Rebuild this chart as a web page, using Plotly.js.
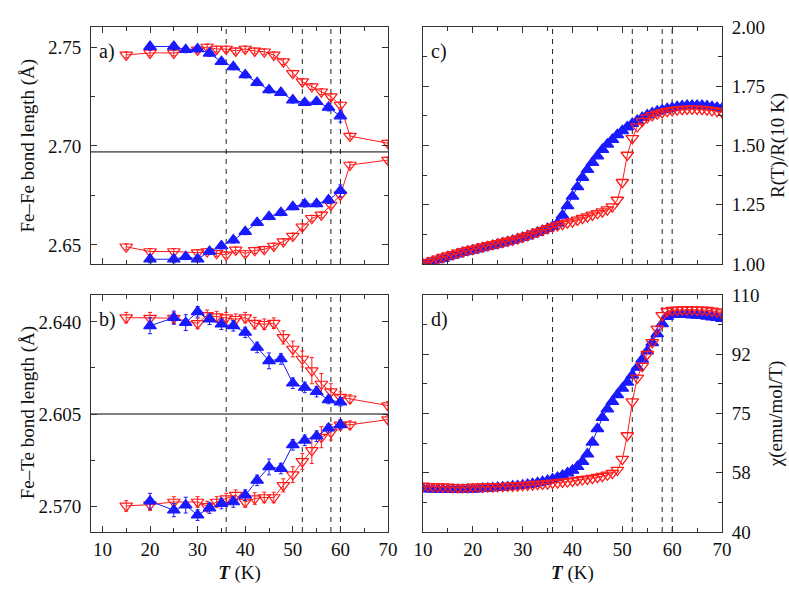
<!DOCTYPE html>
<html>
<head>
<meta charset="utf-8">
<script src="https://cdn.plot.ly/plotly-3.0.1.min.js"></script>
<style>
  html, body { margin: 0; padding: 0; background: #fff; }
  #chart { width: 789px; height: 592px; }
</style>
</head>
<body>
<div id="chart"></div>
<script>
// --- data: panels a) and b) (bond lengths) ---
const tRedAB = [15, 20, 25, 30, 32, 34, 36, 38, 40, 42, 44, 46, 48, 50, 52, 54, 56, 58, 60, 62, 70];
const tBlueAB = [20, 25, 27.5, 30, 32.5, 35, 37.5, 40, 42.5, 45, 47.5, 50, 52.5, 55, 57.5, 60];

const feFeRedLong = [2.7460, 2.7470, 2.7470, 2.7485, 2.7500, 2.7490, 2.7490, 2.7480, 2.7490, 2.7480, 2.7476, 2.7460, 2.7426, 2.7367, 2.7325, 2.7300, 2.7274, 2.7249, 2.7207, 2.7050, 2.7014];
const feFeRedShort = [2.6491, 2.6467, 2.6467, 2.6461, 2.6467, 2.6458, 2.6450, 2.6475, 2.6457, 2.6473, 2.6478, 2.6495, 2.6517, 2.6545, 2.6592, 2.6635, 2.6652, 2.6702, 2.6753, 2.6904, 2.6929];
const feFeRedErr = [0.0015, 0.0015, 0.0015, 0.0015, 0.0015, 0.0015, 0.0015, 0.0015, 0.0015, 0.0015, 0.0015, 0.0015, 0.0015, 0.0015, 0.0015, 0.0015, 0.0015, 0.0015, 0.0015, 0.0015, 0.0015];
const feFeBlueLong = [2.7502, 2.7503, 2.7486, 2.7490, 2.7468, 2.7426, 2.7400, 2.7359, 2.7320, 2.7283, 2.7270, 2.7232, 2.7219, 2.7224, 2.7195, 2.7151];
const feFeBlueShort = [2.6428, 2.6428, 2.6441, 2.6429, 2.6467, 2.6495, 2.6525, 2.6567, 2.6613, 2.6643, 2.6663, 2.6693, 2.6707, 2.6708, 2.6727, 2.6774];
const feFeBlueErr = [0.0018, 0.0018, 0.0015, 0.0015, 0.0015, 0.0015, 0.0015, 0.0015, 0.0015, 0.0015, 0.0015, 0.0015, 0.0015, 0.0015, 0.0018, 0.0030];
const feFeMean = 2.697;

const feTeRedLong = [2.6416, 2.6414, 2.6414, 2.6394, 2.6425, 2.6420, 2.6416, 2.6410, 2.6416, 2.6395, 2.6391, 2.6395, 2.6341, 2.6297, 2.6259, 2.6215, 2.6164, 2.6135, 2.6114, 2.6108, 2.6082];
const feTeRedShort = [2.5701, 2.5706, 2.5716, 2.5716, 2.5699, 2.5716, 2.5729, 2.5742, 2.5716, 2.5729, 2.5733, 2.5733, 2.5779, 2.5820, 2.5870, 2.5912, 2.5962, 2.5981, 2.6009, 2.6009, 2.6029];
const feTeRedErr = [0.0020, 0.0022, 0.0020, 0.0020, 0.0020, 0.0020, 0.0020, 0.0020, 0.0020, 0.0022, 0.0020, 0.0020, 0.0025, 0.0030, 0.0030, 0.0050, 0.0040, 0.0030, 0.0020, 0.0015, 0.0015];
const feTeBlueLong = [2.6385, 2.6416, 2.6397, 2.6438, 2.6410, 2.6391, 2.6385, 2.6360, 2.6303, 2.6252, 2.6259, 2.6167, 2.6151, 2.6135, 2.6104, 2.6095];
const feTeBlueShort = [2.5719, 2.5685, 2.5704, 2.5666, 2.5693, 2.5710, 2.5716, 2.5742, 2.5798, 2.5849, 2.5843, 2.5933, 2.5950, 2.5966, 2.5996, 2.6009];
const feTeBlueErr = [0.0030, 0.0025, 0.0030, 0.0020, 0.0020, 0.0020, 0.0020, 0.0020, 0.0020, 0.0030, 0.0020, 0.0020, 0.0020, 0.0020, 0.0015, 0.0015];
const feTeMean = 2.605;

// --- data: panels c) and d) (transport / susceptibility) ---
const tCD = [10, 11, 12, 13, 14, 15, 16, 17, 18, 19, 20, 21, 22, 23, 24, 25, 26, 27, 28, 29, 30,
             31, 32, 33, 34, 35, 36, 37, 38, 39, 40, 41, 42, 43, 44, 45, 46, 47, 48, 49, 50,
             51, 52, 53, 54, 55, 56, 57, 58, 59, 60, 61, 62, 63, 64, 65, 66, 67, 68, 69, 70];
const resRed = [1.000, 1.008, 1.015, 1.022, 1.029, 1.035, 1.041, 1.047, 1.053, 1.058, 1.063,
                1.068, 1.073, 1.078, 1.083, 1.087, 1.092, 1.097, 1.102, 1.107, 1.114,
                1.121, 1.128, 1.135, 1.143, 1.150, 1.157, 1.163, 1.168, 1.174, 1.179,
                1.186, 1.193, 1.200, 1.207, 1.214, 1.221, 1.229, 1.242, 1.270, 1.345,
                1.460, 1.530, 1.580, 1.603, 1.618, 1.627, 1.634, 1.640, 1.645, 1.648,
                1.651, 1.653, 1.654, 1.654, 1.654, 1.653, 1.651, 1.648, 1.645, 1.641];
const resBlue = [0.998, 1.004, 1.010, 1.017, 1.023, 1.030, 1.036, 1.042, 1.048, 1.053, 1.058,
                 1.063, 1.068, 1.073, 1.078, 1.083, 1.088, 1.093, 1.099, 1.105, 1.111,
                 1.118, 1.125, 1.133, 1.141, 1.149, 1.158, 1.172, 1.205, 1.245, 1.285,
                 1.325, 1.365, 1.398, 1.428, 1.455, 1.483, 1.505, 1.525, 1.545, 1.562,
                 1.578, 1.592, 1.605, 1.618, 1.628, 1.637, 1.644, 1.650, 1.655, 1.659,
                 1.663, 1.666, 1.668, 1.669, 1.669, 1.668, 1.666, 1.663, 1.660, 1.656];
const chiRed = [53.6, 53.5, 53.4, 53.4, 53.3, 53.3, 53.2, 53.2, 53.2, 53.2, 53.3,
                53.3, 53.3, 53.4, 53.4, 53.5, 53.5, 53.6, 53.6, 53.7, 53.8,
                53.9, 54.0, 54.1, 54.2, 54.3, 54.5, 54.6, 54.8, 54.9, 55.1,
                55.3, 55.5, 55.7, 55.9, 56.2, 56.5, 56.9, 57.4, 58.3, 61.5,
                68.5, 78.5, 85.5, 89.0, 92.5, 96.0, 100.0, 104.0, 105.2, 105.5,
                105.6, 105.7, 105.7, 105.7, 105.6, 105.6, 105.5, 105.3, 105.1, 104.8];
const chiBlue = [52.8, 52.7, 52.6, 52.6, 52.5, 52.5, 52.5, 52.5, 52.5, 52.6, 52.6,
                 52.7, 52.8, 52.9, 53.0, 53.1, 53.2, 53.3, 53.5, 53.6, 53.8,
                 54.0, 54.2, 54.5, 54.8, 55.2, 55.6, 56.1, 56.7, 57.4, 58.2,
                 59.3, 60.8, 63.0, 66.5, 70.5, 73.8, 76.3, 78.5, 80.5, 82.4,
                 84.2, 86.3, 88.6, 91.0, 93.4, 95.9, 98.5, 101.5, 103.6, 104.2,
                 104.3, 104.3, 104.2, 104.1, 104.0, 103.9, 103.7, 103.5, 103.3, 103.0];

// --- ticks ---
const tcLines = [36, 52, 58, 60];
const feFeTicks = [2.65, 2.70, 2.75];
const feFeTickText = ['2.65', '2.70', '2.75'];
const feTeTicks = [2.570, 2.605, 2.640];
const feTeTickText = ['2.570', '2.605', '2.640'];
const resTicks = [1.00, 1.25, 1.50, 1.75, 2.00];
const resTickText = ['1.00', '1.25', '1.50', '1.75', '2.00'];
const chiTicks = [40, 57.5, 75, 92.5, 110];
const chiTickText = ['40', '58', '75', '92', '110'];

const RED = '#ff1a1a';
const BLUE = '#1a1aff';
const FRAME = '#333';

// --- trace helpers ---
function bondTrace(x, y, err, color, filled, xa, ya) {
    return {
        x: x, y: y, xaxis: xa, yaxis: ya,
        mode: 'lines+markers',
        line: { color: color, width: 1 },
        marker: {
            symbol: filled ? 'triangle-up' : 'triangle-down-open',
            size: 11,
            color: color,
            line: { color: color, width: 1.2 }
        },
        error_y: { type: 'data', array: err, visible: true, color: color, thickness: 1, width: 2 },
        hoverinfo: 'none'
    };
}

function denseTrace(x, y, color, filled, xa, ya) {
    return {
        x: x, y: y, xaxis: xa, yaxis: ya,
        mode: 'lines+markers',
        line: { color: color, width: 1 },
        marker: {
            symbol: filled ? 'triangle-up' : 'triangle-down-open',
            size: 11,
            color: color,
            line: { color: color, width: 1.3 }
        },
        hoverinfo: 'none'
    };
}

const traces = [
    bondTrace(tRedAB, feFeRedLong, feFeRedErr, RED, false, 'x', 'y'),
    bondTrace(tRedAB, feFeRedShort, feFeRedErr, RED, false, 'x', 'y'),
    bondTrace(tBlueAB, feFeBlueLong, feFeBlueErr, BLUE, true, 'x', 'y'),
    bondTrace(tBlueAB, feFeBlueShort, feFeBlueErr, BLUE, true, 'x', 'y'),
    bondTrace(tRedAB, feTeRedLong, feTeRedErr, RED, false, 'x3', 'y3'),
    bondTrace(tRedAB, feTeRedShort, feTeRedErr, RED, false, 'x3', 'y3'),
    bondTrace(tBlueAB, feTeBlueLong, feTeBlueErr, BLUE, true, 'x3', 'y3'),
    bondTrace(tBlueAB, feTeBlueShort, feTeBlueErr, BLUE, true, 'x3', 'y3'),
    denseTrace(tCD, resBlue, BLUE, true, 'x2', 'y2'),
    denseTrace(tCD, resRed, RED, false, 'x2', 'y2'),
    denseTrace(tCD, chiBlue, BLUE, true, 'x4', 'y4'),
    denseTrace(tCD, chiRed, RED, false, 'x4', 'y4')
];

// --- axes ---
const SERIF = 'Liberation Serif, Times New Roman, serif';

function baseAxis(extra) {
    return Object.assign({
        showline: true, linecolor: FRAME, linewidth: 1, mirror: 'ticks',
        ticks: 'inside', ticklen: 6, tickcolor: FRAME, tickwidth: 1,
        showgrid: false, zeroline: false, fixedrange: true,
        tickfont: { family: SERIF, size: 19, color: '#111' }
    }, extra);
}

function tAxis(domain, range, anchor, labels) {
    return baseAxis({
        domain: domain, range: range, anchor: anchor,
        tick0: 0, dtick: 10, showticklabels: labels,
        minor: { ticks: 'inside', ticklen: 4, dtick: 5, tickcolor: FRAME },
        title: labels ? { text: '<b><i>T</i></b> (K)', standoff: 6, font: { family: SERIF, size: 19 } } : { text: '' }
    });
}

function yTitle(text, standoff) {
    return { text: text, standoff: standoff, font: { family: SERIF, size: 19, color: '#111' } };
}

const leftX = [0, 0.4707];
const rightX = [0.5261, 1];
const topY = [0.5307, 1];
const botY = [0, 0.4693];

const layout = {
    width: 789, height: 592,
    margin: { l: 91, r: 67, t: 27, b: 60 },
    showlegend: false,
    paper_bgcolor: '#fff', plot_bgcolor: '#fff',
    font: { family: SERIF, size: 19, color: '#111' },
    xaxis: tAxis(leftX, [7.6, 70], 'y', false),
    xaxis2: tAxis(rightX, [10, 70], 'y2', false),
    xaxis3: tAxis(leftX, [7.6, 70], 'y3', true),
    xaxis4: tAxis(rightX, [10, 70], 'y4', true),
    yaxis: baseAxis({
        domain: topY, range: [2.6404, 2.7601], anchor: 'x',
        tickvals: feFeTicks, ticktext: feFeTickText, ticklabelstandoff: 5,
        minor: { ticks: 'inside', ticklen: 4, dtick: 0.025, tick0: 2.65, tickcolor: FRAME }
    }),
    yaxis2: baseAxis({
        domain: topY, range: [1, 2], anchor: 'x2', side: 'right',
        tickvals: resTicks, ticktext: resTickText, ticklabelstandoff: 5,
        minor: { ticks: 'inside', ticklen: 4, dtick: 0.125, tick0: 1, tickcolor: FRAME },
        title: yTitle('R(T)/R(10 K)', 6)
    }),
    yaxis3: baseAxis({
        domain: botY, range: [2.5602, 2.6502], anchor: 'x3',
        tickvals: feTeTicks, ticktext: feTeTickText, ticklabelstandoff: 5,
        minor: { ticks: 'inside', ticklen: 4, dtick: 0.0175, tick0: 2.57, tickcolor: FRAME }
    }),
    yaxis4: baseAxis({
        domain: botY, range: [40, 110], anchor: 'x4', side: 'right',
        tickvals: chiTicks, ticktext: chiTickText, ticklabelstandoff: 5,
        minor: { ticks: 'inside', ticklen: 4, dtick: 8.75, tick0: 40, tickcolor: FRAME },
        title: yTitle('\u03c7(emu/mol/T)', 10)
    }),
    shapes: [],
    annotations: []
};

// left-hand axis titles, placed by hand so both line up
[['Fe\u2013Fe bond length (\u00c5)', 0.765], ['Fe\u2013Te bond length (\u00c5)', 0.237]].forEach(([txt, yc]) => {
    layout.annotations.push({
        text: txt, xref: 'paper', yref: 'paper',
        x: -0.1, y: yc, xanchor: 'center', yanchor: 'middle',
        textangle: -90, showarrow: false,
        font: { family: SERIF, size: 19, color: '#111' }
    });
});

// vertical dashed lines at the transition temperatures, in every panel
[['x', 'y'], ['x2', 'y2'], ['x3', 'y3'], ['x4', 'y4']].forEach(([xa, ya]) => {
    tcLines.forEach(tc => {
        layout.shapes.push({
            type: 'line', xref: xa, yref: ya + ' domain',
            x0: tc, x1: tc, y0: 0, y1: 1, layer: 'below',
            line: { color: '#222', width: 1, dash: '5px,5px' }
        });
    });
});

// horizontal average-bond lines in a) and b)
[['x', 'y', feFeMean], ['x3', 'y3', feTeMean]].forEach(([xa, ya, v]) => {
    layout.shapes.push({
        type: 'line', xref: xa + ' domain', yref: ya,
        x0: 0, x1: 1, y0: v, y1: v, layer: 'below',
        line: { color: '#000', width: 1 }
    });
});

// panel letters
[['a)', 'x', 'y'], ['c)', 'x2', 'y2'], ['b)', 'x3', 'y3'], ['d)', 'x4', 'y4']].forEach(([txt, xa, ya]) => {
    layout.annotations.push({
        text: txt, xref: xa + ' domain', yref: ya + ' domain',
        x: 0.02, y: 0.955, xanchor: 'left', yanchor: 'top',
        showarrow: false, font: { family: SERIF, size: 20, color: '#111' }
    });
});

Plotly.newPlot('chart', traces, layout, { displayModeBar: false, staticPlot: true });
</script>
</body>
</html>
